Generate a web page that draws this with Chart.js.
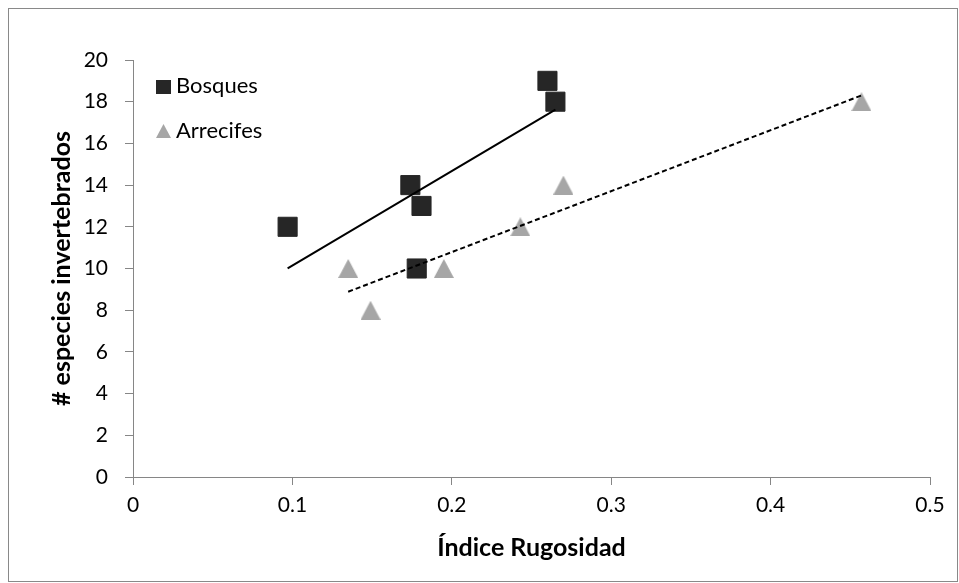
<!DOCTYPE html>
<html>
<head>
<meta charset="utf-8">
<script src="https://cdn.jsdelivr.net/npm/chart.js@4"></script>
<style>
  html, body { margin: 0; padding: 0; background: #fff; }
  #wrap { width: 959px; height: 583px; position: relative; }
</style>
</head>
<body>
<div id="wrap"><canvas id="chart" width="959" height="583"></canvas></div>
<script>
// data
var bosquesX = [0.097, 0.174, 0.181, 0.178, 0.260, 0.265];
var bosquesY = [12, 14, 13, 10, 19, 18];
var arrecifesX = [0.135, 0.149, 0.195, 0.243, 0.270, 0.457];
var arrecifesY = [10, 8, 10, 12, 14, 18];
var seriesNames = ['Bosques', 'Arrecifes'];
var xTitle = 'Índice Rugosidad';
var yTitle = '# especies invertebrados';

var FONT = 'Lato, "Open Sans", sans-serif';
var AXIS_GREY = '#868686';
var DARK = '#262626';
var LIGHT = '#a6a6a6';

toPoints = function(xs, ys) {
  return xs.map(function (x, i) {return {x: x, y: ys[i]};});
}

// linear trendline (least squares) across the range of the data, like Excel
trendline = function(xs, ys) {
  var n = xs.length, mx = 0, my = 0;
  for (var i = 0; i < n; i++) { mx += xs[i]; my += ys[i]; }
  mx /= n; my /= n;
  var sxy = 0, sxx = 0;
  for (var i = 0; i < n; i++) {
    sxy += (xs[i] - mx) * (ys[i] - my);
    sxx += (xs[i] - mx) * (xs[i] - mx);
  }
  var b = sxy / sxx, a = my - b * mx;
  var x0 = Math.min.apply(null, xs), x1 = Math.max.apply(null, xs);
  return [{x: x0, y: a + b * x0}, {x: x1, y: a + b * x1}];
}

// triangle marker centred on its box (Excel style), used as pointStyle
triangleMarker = function(w, h, color) {
  var c = document.createElement('canvas');
  c.width = w; c.height = h;
  var g = c.getContext('2d');
  g.fillStyle = color;
  g.beginPath();
  g.moveTo(w / 2, 0);
  g.lineTo(w, h);
  g.lineTo(0, h);
  g.closePath();
  g.fill();
  return c;
}
var triBig = triangleMarker(20, 19, LIGHT);
var triSmall = triangleMarker(15, 14, LIGHT);

// legend drawn inside the plot area, top left
var insideLegend = {
  id: 'insideLegend',
  afterDraw: function(chart) {
    var ctx = chart.ctx, area = chart.chartArea;
    var x0 = area.left + 23;
    ctx.save();
    ctx.fillStyle = DARK;
    ctx.fillRect(x0, area.top + 20, 15, 14);
    ctx.drawImage(triSmall, x0, area.top + 64);
    ctx.fillStyle = '#000';
    ctx.font = '22px ' + FONT;
    ctx.textBaseline = 'middle';
    ctx.textAlign = 'left';
    ctx.fillText(seriesNames[0], x0 + 20, area.top + 26);
    ctx.fillText(seriesNames[1], x0 + 20, area.top + 71);
    ctx.restore();
  }
};

// outer frame of the chart
var frame = {
  id: 'frame',
  beforeDraw: function(chart) {
    var ctx = chart.ctx;
    ctx.save();
    ctx.strokeStyle = '#898989';
    ctx.lineWidth = 1;
    ctx.strokeRect(8.5, 8.5, 949, 573);
    ctx.restore();
  }
};

var chart = new Chart(document.getElementById('chart'), {
  type: 'scatter',
  data: {
    datasets: [
      {
        label: seriesNames[0],
        data: toPoints(bosquesX, bosquesY),
        pointStyle: 'rect',
        pointRadius: 13.5,
        pointHoverRadius: 13.5,
        backgroundColor: DARK,
        borderColor: DARK,
        borderWidth: 1,
        order: 2
      },
      {
        label: seriesNames[1],
        data: toPoints(arrecifesX, arrecifesY),
        pointStyle: triBig,
        backgroundColor: LIGHT,
        borderColor: LIGHT,
        order: 2
      },
      {
        label: 'tend ' + seriesNames[0],
        data: trendline(bosquesX, bosquesY),
        showLine: true,
        pointRadius: 0,
        borderColor: '#000',
        borderWidth: 2,
        order: 1
      },
      {
        label: 'tend ' + seriesNames[1],
        data: trendline(arrecifesX, arrecifesY),
        showLine: true,
        pointRadius: 0,
        borderColor: '#000',
        borderWidth: 2,
        borderDash: [5, 3],
        order: 1
      }
    ]
  },
  options: {
    responsive: false,
    animation: false,
    layout: {
      padding: {left: 0, top: 60, right: 29, bottom: 0}
    },
    plugins: {
      legend: {display: false},
      tooltip: {enabled: false}
    },
    scales: {
      x: {
        type: 'linear',
        min: 0,
        max: 0.5,
        afterFit: function(scale) { scale.height = 106; },
        ticks: {
          stepSize: 0.1,
          color: '#000',
          padding: 8,
          font: {family: FONT, size: 21}
        },
        grid: {
          drawOnChartArea: false,
          drawTicks: true,
          tickLength: 8,
          color: AXIS_GREY
        },
        border: {color: AXIS_GREY, width: 1},
        title: {
          display: true,
          text: xTitle,
          color: '#000',
          padding: {top: 0, bottom: 20},
          font: {family: FONT, size: 25, weight: 'bold'}
        }
      },
      y: {
        type: 'linear',
        min: 0,
        max: 20,
        afterFit: function(scale) { scale.width = 133; },
        ticks: {
          stepSize: 2,
          color: '#000',
          padding: 17,
          font: {family: FONT, size: 21}
        },
        grid: {
          drawOnChartArea: false,
          drawTicks: true,
          tickLength: 8,
          color: AXIS_GREY
        },
        border: {color: AXIS_GREY, width: 1},
        title: {
          display: true,
          text: yTitle,
          color: '#000',
          padding: {top: 47, bottom: 0},
          font: {family: FONT, size: 25, weight: 'bold'}
        }
      }
    }
  },
  plugins: [frame, insideLegend]
});
</script>
</body>
</html>
